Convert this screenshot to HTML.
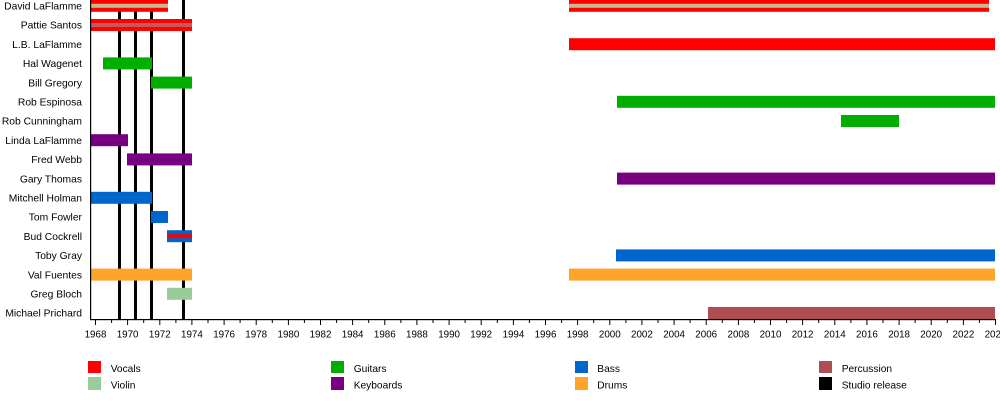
<!DOCTYPE html>
<html><head><meta charset="utf-8"><style>
html,body{margin:0;padding:0;background:#fff;}
svg{display:block;font-family:"Liberation Sans",Arial,sans-serif;}
</style></head><body>
<svg width="1000" height="408" viewBox="0 0 1000 408" xmlns="http://www.w3.org/2000/svg">
<rect width="1000" height="408" fill="#fff"/>
<!-- studio release lines -->
<g fill="#000">
<rect x="118" y="0" width="3" height="320"/>
<rect x="134" y="0" width="3" height="320"/>
<rect x="150" y="0" width="3" height="320"/>
<rect x="182" y="0" width="3" height="320"/>
</g>
<!-- bars: row center = 5.8 + 19.2*i, height 12 -->
<g>
<!-- 0 David -->
<rect x="91" y="-0.2" width="77" height="12" fill="#ff0000"/>
<rect x="91" y="3.8" width="77" height="4" fill="#c8b98c"/>
<rect x="569" y="-0.2" width="420" height="12" fill="#ff0000"/>
<rect x="569" y="3.8" width="420" height="4" fill="#c8b98c"/>
<!-- 1 Pattie -->
<rect x="91" y="19" width="101" height="12" fill="#ff0000"/>
<rect x="91" y="23" width="101" height="4" fill="#c8585c"/>
<!-- 2 LB -->
<rect x="569" y="38.2" width="426" height="12" fill="#ff0000"/>
<!-- 3 Hal -->
<rect x="103" y="57.4" width="49" height="12" fill="#00ae00"/>
<!-- 4 Bill -->
<rect x="151" y="76.6" width="41" height="12" fill="#00ae00"/>
<!-- 5 Rob E -->
<rect x="617" y="95.8" width="378" height="12" fill="#00ae00"/>
<!-- 6 Rob C -->
<rect x="841" y="115" width="58" height="12" fill="#00ae00"/>
<!-- 7 Linda -->
<rect x="91" y="134.2" width="37" height="12" fill="#780080"/>
<!-- 8 Fred -->
<rect x="127" y="153.4" width="65" height="12" fill="#780080"/>
<!-- 9 Gary -->
<rect x="617" y="172.6" width="378" height="12" fill="#780080"/>
<!-- 10 Mitchell -->
<rect x="91" y="191.8" width="61" height="12" fill="#0066cc"/>
<!-- 11 Tom -->
<rect x="151" y="211" width="17" height="12" fill="#0066cc"/>
<!-- 12 Bud -->
<rect x="167" y="230.2" width="25" height="12" fill="#0066cc"/>
<rect x="167" y="234.2" width="25" height="4" fill="#ff0000"/>
<!-- 13 Toby -->
<rect x="616" y="249.4" width="379" height="12" fill="#0066cc"/>
<!-- 14 Val -->
<rect x="91" y="268.6" width="101" height="12" fill="#ffa32b"/>
<rect x="569" y="268.6" width="426" height="12" fill="#ffa32b"/>
<!-- 15 Greg -->
<rect x="167" y="287.8" width="25" height="12" fill="#99cc99"/>
<!-- 16 Michael -->
<rect x="708" y="307" width="287" height="12" fill="#b04d52"/>
</g>
<!-- axes -->
<rect x="90" y="0" width="1.2" height="320" fill="#000"/>
<rect x="90" y="319" width="906" height="1.2" fill="#000"/>
<g stroke="#000" stroke-width="1">
<line x1="95.5" y1="320" x2="95.5" y2="325"/><line x1="111.6" y1="320" x2="111.6" y2="323"/>
<line x1="127.6" y1="320" x2="127.6" y2="325"/><line x1="143.7" y1="320" x2="143.7" y2="323"/>
<line x1="159.8" y1="320" x2="159.8" y2="325"/><line x1="175.9" y1="320" x2="175.9" y2="323"/>
<line x1="191.9" y1="320" x2="191.9" y2="325"/><line x1="208" y1="320" x2="208" y2="323"/>
<line x1="224.1" y1="320" x2="224.1" y2="325"/><line x1="240.1" y1="320" x2="240.1" y2="323"/>
<line x1="256.2" y1="320" x2="256.2" y2="325"/><line x1="272.3" y1="320" x2="272.3" y2="323"/>
<line x1="288.4" y1="320" x2="288.4" y2="325"/><line x1="304.4" y1="320" x2="304.4" y2="323"/>
<line x1="320.5" y1="320" x2="320.5" y2="325"/><line x1="336.6" y1="320" x2="336.6" y2="323"/>
<line x1="352.6" y1="320" x2="352.6" y2="325"/><line x1="368.7" y1="320" x2="368.7" y2="323"/>
<line x1="384.8" y1="320" x2="384.8" y2="325"/><line x1="400.9" y1="320" x2="400.9" y2="323"/>
<line x1="416.9" y1="320" x2="416.9" y2="325"/><line x1="433" y1="320" x2="433" y2="323"/>
<line x1="449.1" y1="320" x2="449.1" y2="325"/><line x1="465.1" y1="320" x2="465.1" y2="323"/>
<line x1="481.2" y1="320" x2="481.2" y2="325"/><line x1="497.3" y1="320" x2="497.3" y2="323"/>
<line x1="513.4" y1="320" x2="513.4" y2="325"/><line x1="529.4" y1="320" x2="529.4" y2="323"/>
<line x1="545.5" y1="320" x2="545.5" y2="325"/><line x1="561.6" y1="320" x2="561.6" y2="323"/>
<line x1="577.6" y1="320" x2="577.6" y2="325"/><line x1="593.7" y1="320" x2="593.7" y2="323"/>
<line x1="609.8" y1="320" x2="609.8" y2="325"/><line x1="625.9" y1="320" x2="625.9" y2="323"/>
<line x1="641.9" y1="320" x2="641.9" y2="325"/><line x1="658" y1="320" x2="658" y2="323"/>
<line x1="674.1" y1="320" x2="674.1" y2="325"/><line x1="690.1" y1="320" x2="690.1" y2="323"/>
<line x1="706.2" y1="320" x2="706.2" y2="325"/><line x1="722.3" y1="320" x2="722.3" y2="323"/>
<line x1="738.4" y1="320" x2="738.4" y2="325"/><line x1="754.4" y1="320" x2="754.4" y2="323"/>
<line x1="770.5" y1="320" x2="770.5" y2="325"/><line x1="786.6" y1="320" x2="786.6" y2="323"/>
<line x1="802.6" y1="320" x2="802.6" y2="325"/><line x1="818.7" y1="320" x2="818.7" y2="323"/>
<line x1="834.8" y1="320" x2="834.8" y2="325"/><line x1="850.9" y1="320" x2="850.9" y2="323"/>
<line x1="866.9" y1="320" x2="866.9" y2="325"/><line x1="883" y1="320" x2="883" y2="323"/>
<line x1="899.1" y1="320" x2="899.1" y2="325"/><line x1="915.1" y1="320" x2="915.1" y2="323"/>
<line x1="931.2" y1="320" x2="931.2" y2="325"/><line x1="947.3" y1="320" x2="947.3" y2="323"/>
<line x1="963.4" y1="320" x2="963.4" y2="325"/><line x1="979.4" y1="320" x2="979.4" y2="323"/>
<line x1="995.5" y1="320" x2="995.5" y2="325"/>
</g>
<!-- year labels -->
<g font-size="9.8" fill="#000" text-anchor="middle">
<text x="95.5" y="337.5">1968</text><text x="127.6" y="337.5">1970</text>
<text x="159.8" y="337.5">1972</text><text x="191.9" y="337.5">1974</text>
<text x="224.1" y="337.5">1976</text><text x="256.2" y="337.5">1978</text>
<text x="288.4" y="337.5">1980</text><text x="320.5" y="337.5">1982</text>
<text x="352.6" y="337.5">1984</text><text x="384.8" y="337.5">1986</text>
<text x="416.9" y="337.5">1988</text><text x="449.1" y="337.5">1990</text>
<text x="481.2" y="337.5">1992</text><text x="513.4" y="337.5">1994</text>
<text x="545.5" y="337.5">1996</text><text x="577.6" y="337.5">1998</text>
<text x="609.8" y="337.5">2000</text><text x="641.9" y="337.5">2002</text>
<text x="674.1" y="337.5">2004</text><text x="706.2" y="337.5">2006</text>
<text x="738.4" y="337.5">2008</text><text x="770.5" y="337.5">2010</text>
<text x="802.6" y="337.5">2012</text><text x="834.8" y="337.5">2014</text>
<text x="866.9" y="337.5">2016</text><text x="899.1" y="337.5">2018</text>
<text x="931.2" y="337.5">2020</text><text x="963.4" y="337.5">2022</text>
<text x="995.5" y="337.5">2024</text>
</g>
<!-- names -->
<g font-size="10.3" fill="#000" text-anchor="end">
<text x="82" y="9.5">David LaFlamme</text>
<text x="82" y="28.7">Pattie Santos</text>
<text x="82" y="47.9">L.B. LaFlamme</text>
<text x="82" y="67.1">Hal Wagenet</text>
<text x="82" y="86.3">Bill Gregory</text>
<text x="82" y="105.5">Rob Espinosa</text>
<text x="82" y="124.7">Rob Cunningham</text>
<text x="82" y="143.9">Linda LaFlamme</text>
<text x="82" y="163.1">Fred Webb</text>
<text x="82" y="182.3">Gary Thomas</text>
<text x="82" y="201.5">Mitchell Holman</text>
<text x="82" y="220.7">Tom Fowler</text>
<text x="82" y="239.9">Bud Cockrell</text>
<text x="82" y="259.1">Toby Gray</text>
<text x="82" y="278.3">Val Fuentes</text>
<text x="82" y="297.5">Greg Bloch</text>
<text x="82" y="316.7">Michael Prichard</text>
</g>
<!-- legend -->
<g>
<rect x="88" y="361" width="13" height="12" fill="#ff0000"/>
<rect x="88" y="377" width="13" height="13" fill="#99cc99"/>
<rect x="331" y="361" width="13" height="12" fill="#00ae00"/>
<rect x="331" y="377" width="13" height="13" fill="#780080"/>
<rect x="575" y="361" width="13" height="12" fill="#0066cc"/>
<rect x="575" y="377" width="13" height="13" fill="#ffa32b"/>
<rect x="819" y="361" width="13" height="12" fill="#b04d52"/>
<rect x="819" y="377" width="13" height="13" fill="#000"/>
</g>
<g font-size="10.2" fill="#000">
<text x="110.7" y="372">Vocals</text>
<text x="110.7" y="388.5">Violin</text>
<text x="353.7" y="372">Guitars</text>
<text x="353.7" y="388.5">Keyboards</text>
<text x="597.3" y="372">Bass</text>
<text x="597.3" y="388.5">Drums</text>
<text x="841.7" y="372">Percussion</text>
<text x="841.7" y="388.5">Studio release</text>
</g>
</svg>
</body></html>
